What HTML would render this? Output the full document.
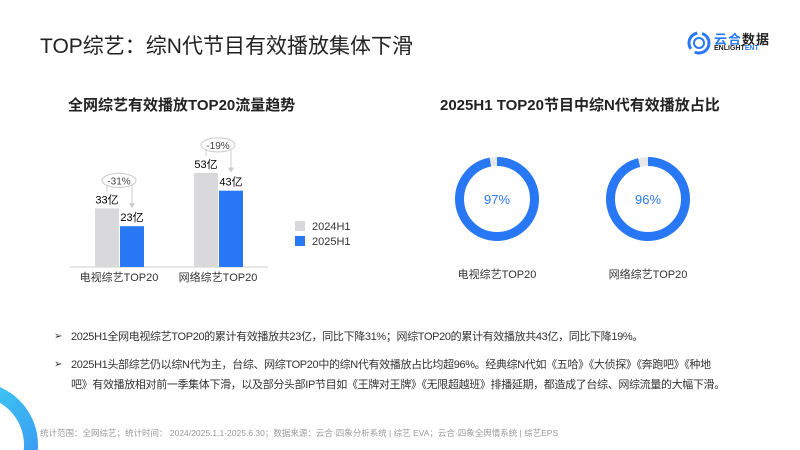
<!DOCTYPE html>
<html><head><meta charset="utf-8"><style>
body{margin:0;width:800px;height:450px;overflow:hidden;background:#fff;font-family:"Liberation Sans","Noto Sans CJK SC",sans-serif;position:relative;color:#222}
.abs{position:absolute}
.b{font-size:11px;color:#333;line-height:20px;white-space:nowrap;letter-spacing:-0.35px}
.m{position:absolute;left:-17px;font-size:10px}
</style></head><body>
<div class="abs" style="left:40px;top:30px;font-size:21px;color:#222">TOP综艺：综N代节目有效播放集体下滑</div>
<div class="abs" style="left:687px;top:30px;width:100px;height:26px">
<svg width="24" height="24" style="position:absolute;left:0;top:1px"><circle cx="12" cy="12" r="10" fill="none" stroke="#2878f5" stroke-width="3" stroke-dasharray="20 5"/><circle cx="12" cy="12" r="5" fill="none" stroke="#2878f5" stroke-width="2"/></svg>
<div style="position:absolute;left:27px;top:-1px;font-size:13px;font-weight:bold;color:#2878f5;letter-spacing:1px">云合<span style="color:#222">数据</span></div>
<div style="position:absolute;left:27px;top:15px;font-size:7px;font-weight:bold;color:#222">ENLIGHT<span style="color:#2878f5">ENT</span></div>
</div>
<div class="abs" style="left:68px;top:94px;font-size:15px;font-weight:bold">全网综艺有效播放TOP20流量趋势</div>
<div class="abs" style="left:440px;top:94px;font-size:15px;font-weight:bold">2025H1 TOP20节目中综N代有效播放占比</div>
<svg class="abs" id="bars" style="left:0;top:0" width="800" height="300"></svg>
<svg class="abs" id="donuts" style="left:0;top:0" width="800" height="300"></svg>
<div class="abs b" style="left:71px;top:327px"><span class="m">➢</span>2025H1全网电视综艺TOP20的累计有效播放共23亿，同比下降31%；网综TOP20的累计有效播放共43亿，同比下降19%。</div>
<div class="abs b" style="left:71px;top:355px"><span class="m">➢</span>2025H1头部综艺仍以综N代为主，台综、网综TOP20中的综N代有效播放占比均超96%。经典综N代如《五哈》《大侦探》《奔跑吧》《种地<br>吧》有效播放相对前一季集体下滑，以及部分头部IP节目如《王牌对王牌》《无限超越班》排播延期，都造成了台综、网综流量的大幅下滑。</div>
<div class="abs" style="left:40px;top:427px;font-size:8.5px;color:#999">统计范围：全网综艺；统计时间： 2024/2025.1.1-2025.6.30；数据来源：云合·四象分析系统 | 综艺 EVA；云合·四象全舆情系统 | 综艺EPS</div>
<svg class="abs" style="left:0;top:350px" width="60" height="100"><defs><linearGradient id="g" x1="0" y1="0" x2="1" y2="1"><stop offset="0" stop-color="#3ee0f0"/><stop offset="1" stop-color="#3a8cf5"/></linearGradient></defs><circle cx="-25" cy="95" r="56" fill="none" stroke="url(#g)" stroke-width="14"/></svg>
<script>
const categories=["电视综艺TOP20","网络综艺TOP20"];
const s2024=[33,53];
const s2025=[23,43];
const changes=["-31%","-19%"];
const legend=["2024H1","2025H1"];
const donutLabels=["电视综艺TOP20","网络综艺TOP20"];
const donutValues=[97,96];
const NS="http://www.w3.org/2000/svg";
function mk(p,t,a,txt){const e=document.createElementNS(NS,t);for(const k in a)e.setAttribute(k,a[k]);if(txt!=null)e.textContent=txt;p.appendChild(e);return e;}
const B=document.getElementById('bars');
const base=267,k=1.775,bw=24;
function y(v){return base-v*k;}
function cx(i){return 119+i*99;}
const ax=mk(B,'line',{x1:70,x2:268,y1:base,y2:base,stroke:'#ccc'});

categories.forEach((c,i)=>{
 const x=cx(i);
 const g=mk(B,'rect',{x:x-bw,y:y(s2024[i]),width:bw,height:s2024[i]*k,fill:'#d9d9db'});
 
 const b=mk(B,'rect',{x:x+1,y:y(s2025[i]),width:bw,height:s2025[i]*k,fill:'#2878f5'});
 
 const l1=mk(B,'text',{x:x-12,y:y(s2024[i])-5,'text-anchor':'middle','font-size':11},s2024[i]+'亿');
 
 const l2=mk(B,'text',{x:x+13,y:y(s2025[i])-5,'text-anchor':'middle','font-size':11},s2025[i]+'亿');
 
 const ty=y(s2024[i])-28;
 mk(B,'path',{d:`M${x-12} ${y(s2024[i])-17}V${ty} M${x+13} ${ty}V${y(s2025[i])-20}`,stroke:'#ccc',fill:'none'});
 mk(B,'path',{d:`M${x+10} ${y(s2025[i])-23}L${x+13} ${y(s2025[i])-18}L${x+16} ${y(s2025[i])-23}`,fill:'#ccc'});
 mk(B,'ellipse',{cx:x,cy:ty,rx:17,ry:7,fill:'#fff',stroke:'#ccc'});
 const ct=mk(B,'text',{x:x,y:ty+4,'text-anchor':'middle','font-size':10,fill:'#444'},changes[i]);
 
 const cl=mk(B,'text',{x:x,y:281,'text-anchor':'middle','font-size':11,fill:'#333'},c);
 
});
legend.forEach((l,i)=>{
 const r=mk(B,'rect',{x:295,y:221+i*15,width:10,height:10,fill:i?'#2878f5':'#d9d9db'});
 
 const t=mk(B,'text',{x:312,y:230+i*15,'font-size':11,fill:'#333'},l);
 
});
const D=document.getElementById('donuts');
donutValues.forEach((v,i)=>{
 const cxp=497+i*151,cyp=199,r=37.5,C=2*Math.PI*r;
 mk(D,'circle',{cx:cxp,cy:cyp,r:r,fill:'none',stroke:'#e8e8ea','stroke-width':9});
 const a=mk(D,'circle',{cx:cxp,cy:cyp,r:r,fill:'none',stroke:'#2878f5','stroke-width':9,'stroke-dasharray':`${C*v/100} ${C}`,transform:`rotate(-90 ${cxp} ${cyp})`});
 
 const t=mk(D,'text',{x:cxp,y:cyp+5,'text-anchor':'middle','font-size':13,fill:'#2878f5'},v+'%');
 
 const l=mk(D,'text',{x:cxp,y:278,'text-anchor':'middle','font-size':11,fill:'#333'},donutLabels[i]);
 
});
</script>
</body></html>
